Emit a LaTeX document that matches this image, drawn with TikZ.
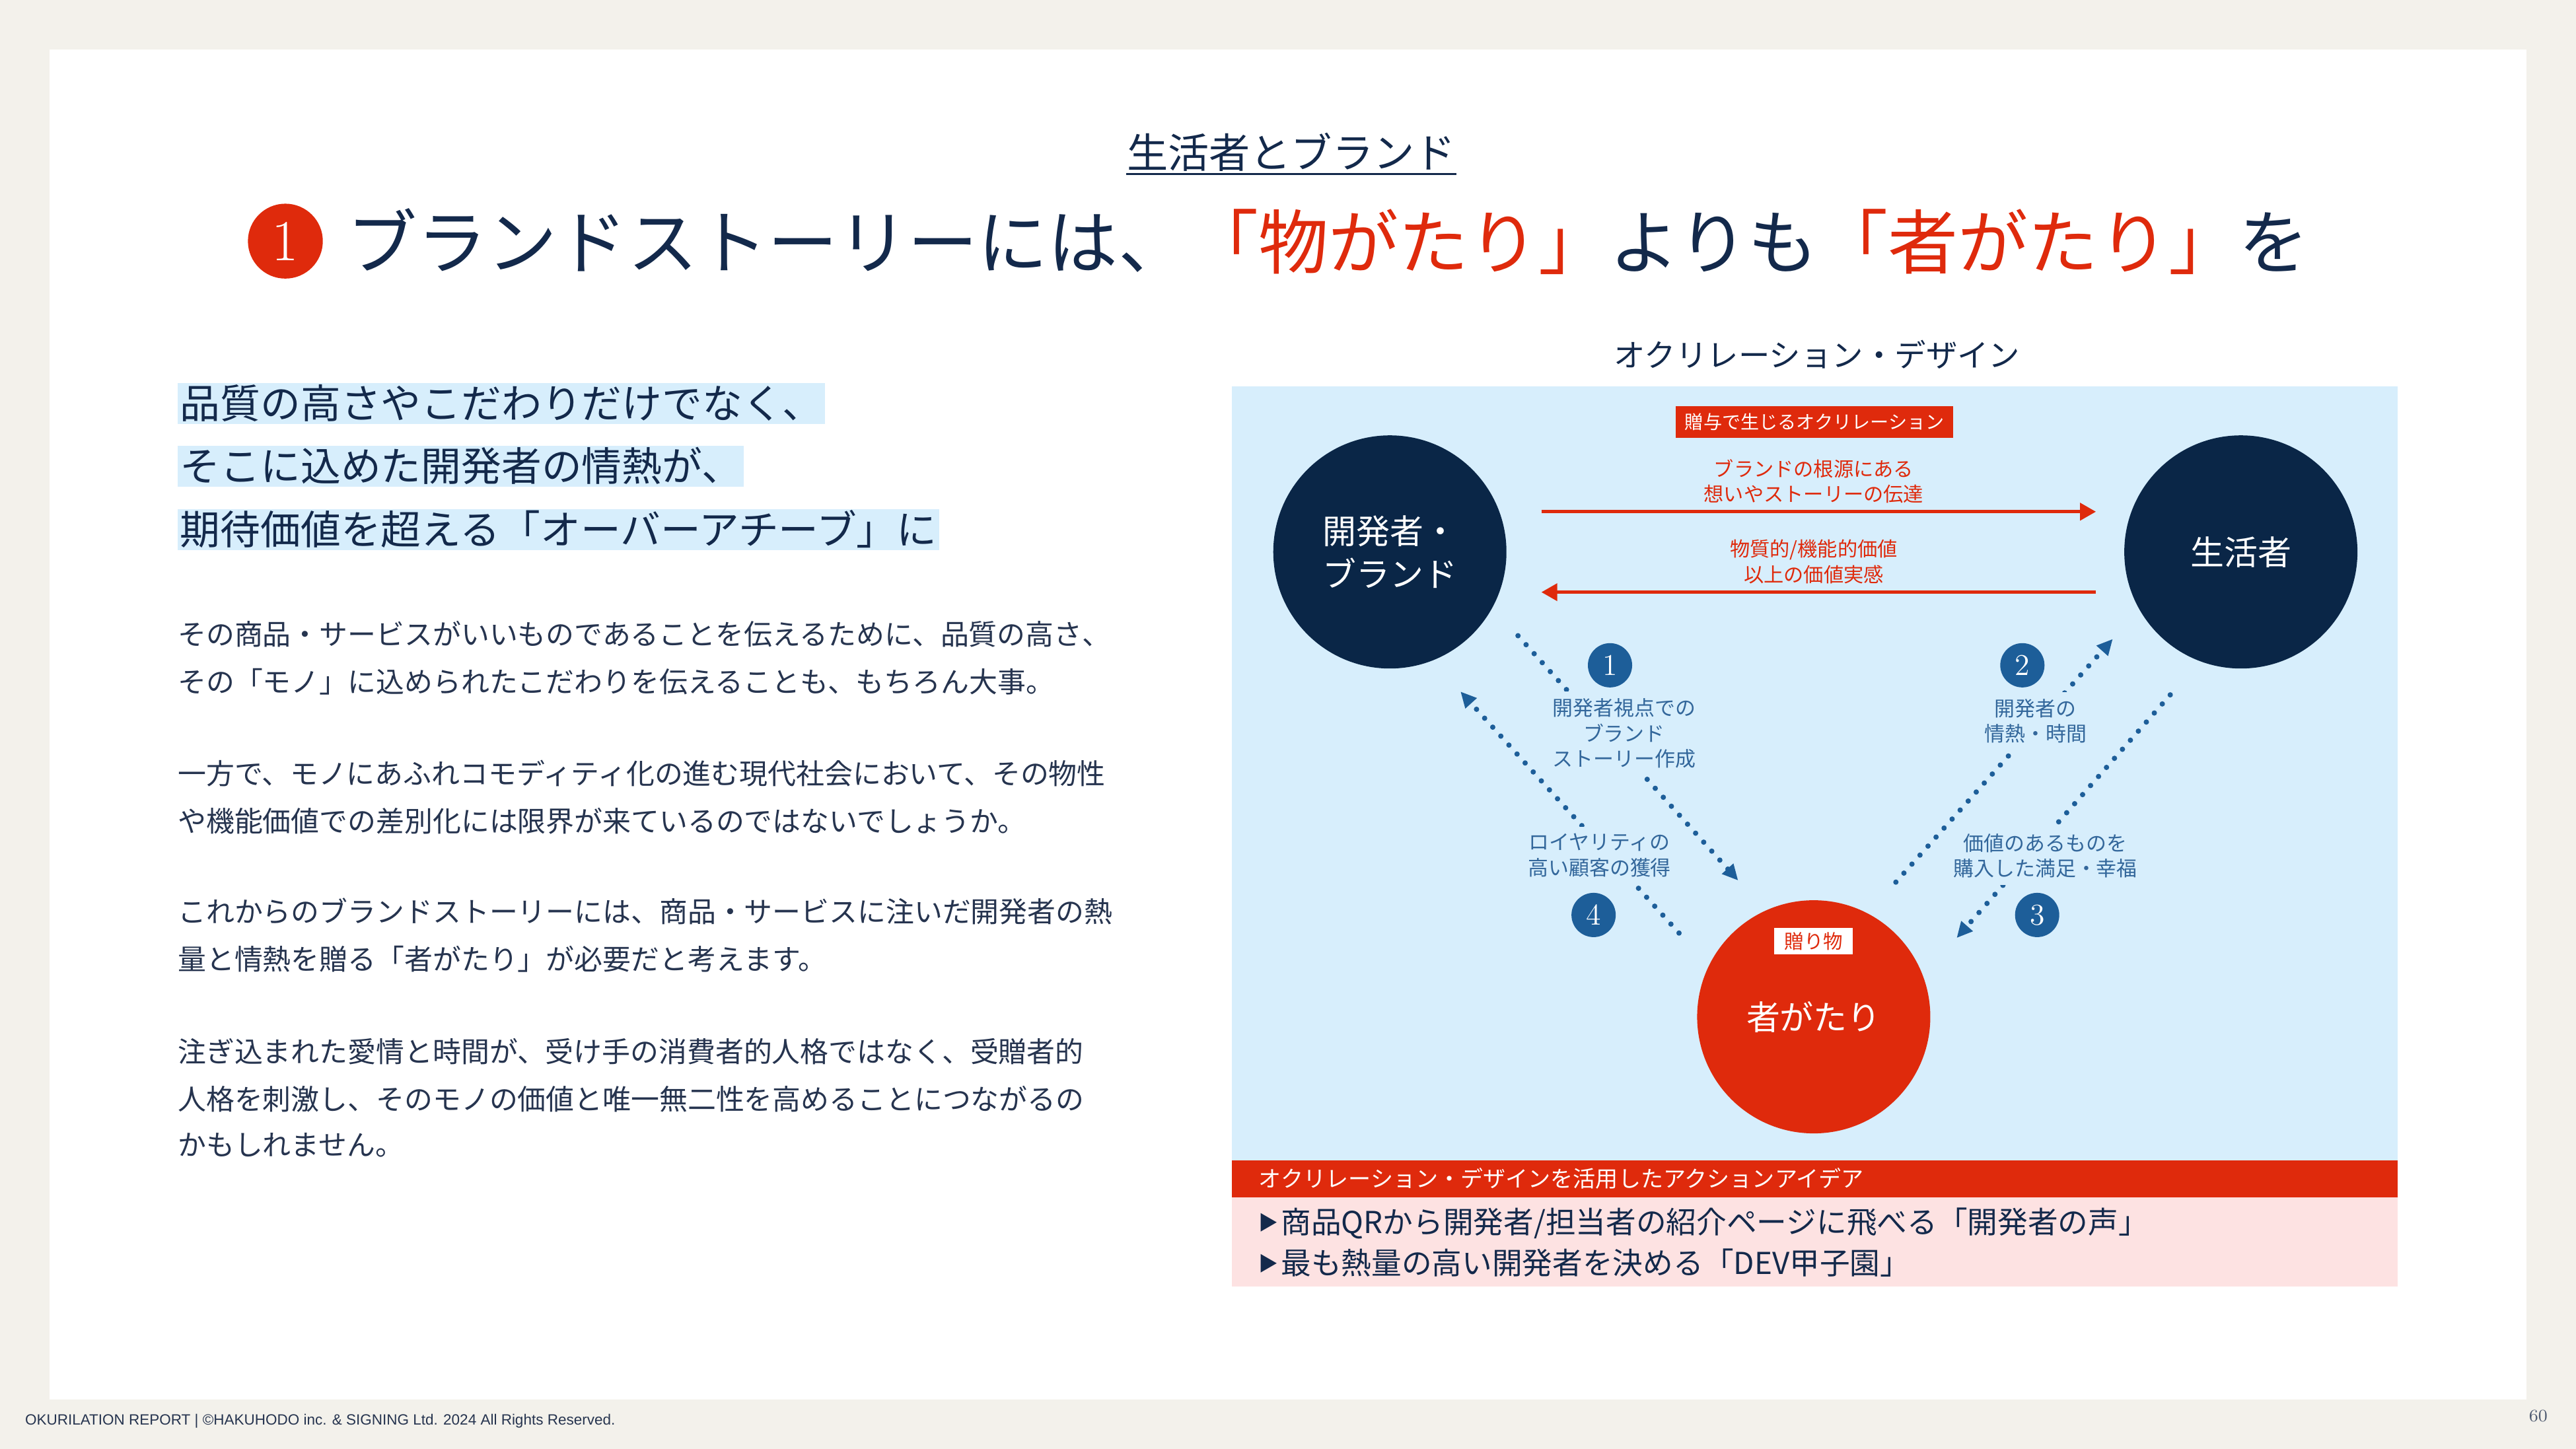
\documentclass[tikz,border=0pt]{standalone}
\usepackage{fontspec}
\usetikzlibrary{arrows.meta}

\newfontfamily\jpfont{Noto Sans CJK JP}
\newfontfamily\footfont{Liberation Sans}

\definecolor{paper}{HTML}{F3F1EB}
\definecolor{navy}{HTML}{0A2647}
\definecolor{inkblue}{HTML}{13294B}
\definecolor{bodyink}{HTML}{26344F}
\definecolor{okured}{HTML}{DF2A0C}
\definecolor{skyfill}{HTML}{D7EEFC}
\definecolor{numblue}{HTML}{1D5E99}
\definecolor{lblblue}{HTML}{33679B}
\definecolor{pinkfill}{HTML}{FDE2E2}

\newcommand{\ideamark}{\raisebox{1.3pt}{\fontsize{8.5}{9}\selectfont ▶}\hspace{1pt}}

\tikzset{
  actor/.style={circle, minimum size=3.53cm, inner sep=0pt, text=white, align=center,
    font=\jpfont\fontsize{14.5}{18.4}\selectfont},
  numdot/.style={circle, fill=numblue, minimum size=0.67cm, inner sep=0pt, text=white,
    font=\fontsize{13}{13}\selectfont},
  flowlbl/.style={fill=skyfill, inner sep=3pt, text=lblblue, align=center,
    font=\jpfont\fontsize{8.8}{11}\selectfont},
  giftlbl/.style={text=okured, align=center, inner sep=0pt,
    font=\jpfont\fontsize{8.6}{11}\selectfont},
  giftarrow/.style={okured, line width=1.3pt, -{Triangle[length=0.24cm,width=0.26cm]}},
  dotarrow/.style={numblue, line width=2.3pt, line cap=round, dash pattern=on 0pt off 5.2pt,
    -{Triangle[length=0.24cm,width=0.22cm]}},
  hilite/.style={fill=skyfill, anchor=west, inner xsep=1pt, inner ysep=0pt,
    text height=15.2pt, text depth=2.4pt, text=inkblue,
    font=\jpfont\fontsize{17.3}{20}\selectfont},
  bodyline/.style={anchor=west, inner sep=0pt, text height=10.7pt, text depth=1.5pt,
    text=bodyink, font=\jpfont\fontsize{12.2}{14}\selectfont},
  idealine/.style={anchor=west, inner sep=0pt, text=inkblue,
    font=\jpfont\fontsize{13}{15}\selectfont},
}

\begin{document}
\begin{tikzpicture}[x=0.024872cm, y=-0.024872cm]

% ===== Page =====
\useasboundingbox (0,0) rectangle (1568,882);
\fill[paper] (0,0) rectangle (1568,882);
\fill[white] (30,30) rectangle (1538,852);

% ===== Heading =====
\node[inner sep=0pt, text=inkblue, font=\jpfont\fontsize{17.7}{20}\selectfont] (sub) at (786,92.5) {生活者とブランド};
\draw[inkblue, line width=0.8pt] ([yshift=-1pt]sub.south west) -- ([yshift=-1pt]sub.south east);

\node[circle, fill=okured, minimum size=1.134cm, inner sep=0pt, text=white,
  font=\fontsize{25}{25}\selectfont] (tnum) at (173.7,146.8) {1};
\node[anchor=west, inner sep=0pt, text=inkblue, font=\jpfont\fontsize{30.2}{34}\selectfont] (ttl) at (211,147)
  {ブランドストーリーには、\textcolor{okured}{「物がたり」}よりも\textcolor{okured}{「者がたり」}を};

% ===== Left column =====
\node[hilite] (hl1) at (108,245.5) {品質の高さやこだわりだけでなく、};
\node[hilite] (hl2) at (108,284) {そこに込めた開発者の情熱が、};
\node[hilite] (hl3) at (108,322.5) {期待価値を超える「オーバーアチーブ」に};

\node[bodyline] (b1) at (108,386) {その商品・サービスがいいものであることを伝えるために、品質の高さ、};
\node[bodyline] (b2) at (108,415) {その「モノ」に込められたこだわりを伝えることも、もちろん大事。};

\node[bodyline] (b3) at (108,471) {一方で、モノにあふれコモディティ化の進む現代社会において、その物性};
\node[bodyline] (b4) at (108,500) {や機能価値での差別化には限界が来ているのではないでしょうか。};

\node[bodyline] (b5) at (108,555) {これからのブランドストーリーには、商品・サービスに注いだ開発者の熱};
\node[bodyline] (b6) at (108,584) {量と情熱を贈る「者がたり」が必要だと考えます。};

\node[bodyline] (b7) at (108,640) {注ぎ込まれた愛情と時間が、受け手の消費者的人格ではなく、受贈者的};
\node[bodyline] (b8) at (108,669) {人格を刺激し、そのモノの価値と唯一無二性を高めることにつながるの};
\node[bodyline] (b9) at (108,697) {かもしれません。};

% ===== Diagram frame =====
\node[inner sep=0pt, text=inkblue, font=\jpfont\fontsize{13.5}{15}\selectfont] (dtitle) at (1106,216) {オクリレーション・デザイン};
\fill[skyfill] (750,235) rectangle (1459.6,706.5);
\fill[okured] (750,706.5) rectangle (1459.6,729);
\fill[pinkfill] (750,729) rectangle (1459.6,783);

% ===== Circles =====
\node[actor, fill=navy] (dev) at (846,336) {開発者・\\ブランド};
\node[actor, fill=navy] (con) at (1364,336) {生活者};
\node[actor, fill=okured] (mono) at (1104,619) {者がたり};

\node[fill=okured, text=white, minimum width=4.2cm, minimum height=0.485cm, inner sep=0pt,
  font=\jpfont\fontsize{8}{9}\selectfont] (gifttag) at (1104.5,257) {贈与で生じるオクリレーション};
\node[fill=white, text=okured, minimum width=1.19cm, minimum height=0.4cm, inner sep=0pt,
  font=\jpfont\fontsize{8.4}{9}\selectfont] (monotag) at (1104,573) {贈り物};

% ===== Gift arrows =====
\draw[giftarrow] ([shift={(21,-24.5)}]dev.east) -- ([shift={(-17,-24.5)}]con.west);
\draw[giftarrow] ([shift={(-17,24.5)}]con.west) -- ([shift={(21,24.5)}]dev.east);
\node[giftlbl] (g1) at (1104,293) {ブランドの根源にある\\想いやストーリーの伝達};
\node[giftlbl] (g2) at (1104,342) {物質的/機能的価値\\以上の価値実感};

% ===== Dotted cycle =====
\coordinate (s1) at (924,387);  \coordinate (e1) at (1058,536);
\coordinate (s2) at (1154,537); \coordinate (e2) at (1286,389);
\coordinate (s3) at (1321,423); \coordinate (e3) at (1191,571);
\coordinate (s4) at (1022,568); \coordinate (e4) at (889,421);
\draw[dotarrow] (s1) -- (e1);
\draw[dotarrow] (s2) -- (e2);
\draw[dotarrow] (s3) -- (e3);
\draw[dotarrow] (s4) -- (e4);

\node[flowlbl] (f1) at (988.6,446.5) {開発者視点での\\ブランド\\ストーリー作成};
\node[flowlbl] (f2) at (1239,439) {開発者の\\情熱・時間};
\node[flowlbl] (f3) at (1245,521) {価値のあるものを\\購入した満足・幸福};
\node[flowlbl] (f4) at (973.6,520.7) {ロイヤリティの\\高い顧客の獲得};

\node[numdot] (n1) at (980,405) {1};
\node[numdot] (n2) at (1231,405) {2};
\node[numdot] (n3) at (1240,557) {3};
\node[numdot] (n4) at (970,557) {4};

% ===== Action ideas =====
\node[anchor=west, inner sep=0pt, text=white, font=\jpfont\fontsize{9.7}{11}\selectfont] (ideahead) at (766,717.5)
  {オクリレーション・デザインを活用したアクションアイデア};
\node[idealine] (idea1) at (766,744.7) {\ideamark 商品QRから開発者/担当者の紹介ページに飛べる「開発者の声」};
\node[idealine] (idea2) at (766,768.6) {\ideamark 最も熱量の高い開発者を決める「DEV甲子園」};

% ===== Footer =====
\node[anchor=west, inner sep=0pt, text=bodyink, font=\footfont\fontsize{6.4}{7}\selectfont] (foot) at (15,865)
  {OKURILATION REPORT | ©HAKUHODO inc. \& SIGNING Ltd. 2024 All Rights Reserved.};
\node[inner sep=0pt, text=bodyink!80, font=\fontsize{7.5}{8}\selectfont] (pg) at (1545,862) {60};

\end{tikzpicture}
\end{document}
